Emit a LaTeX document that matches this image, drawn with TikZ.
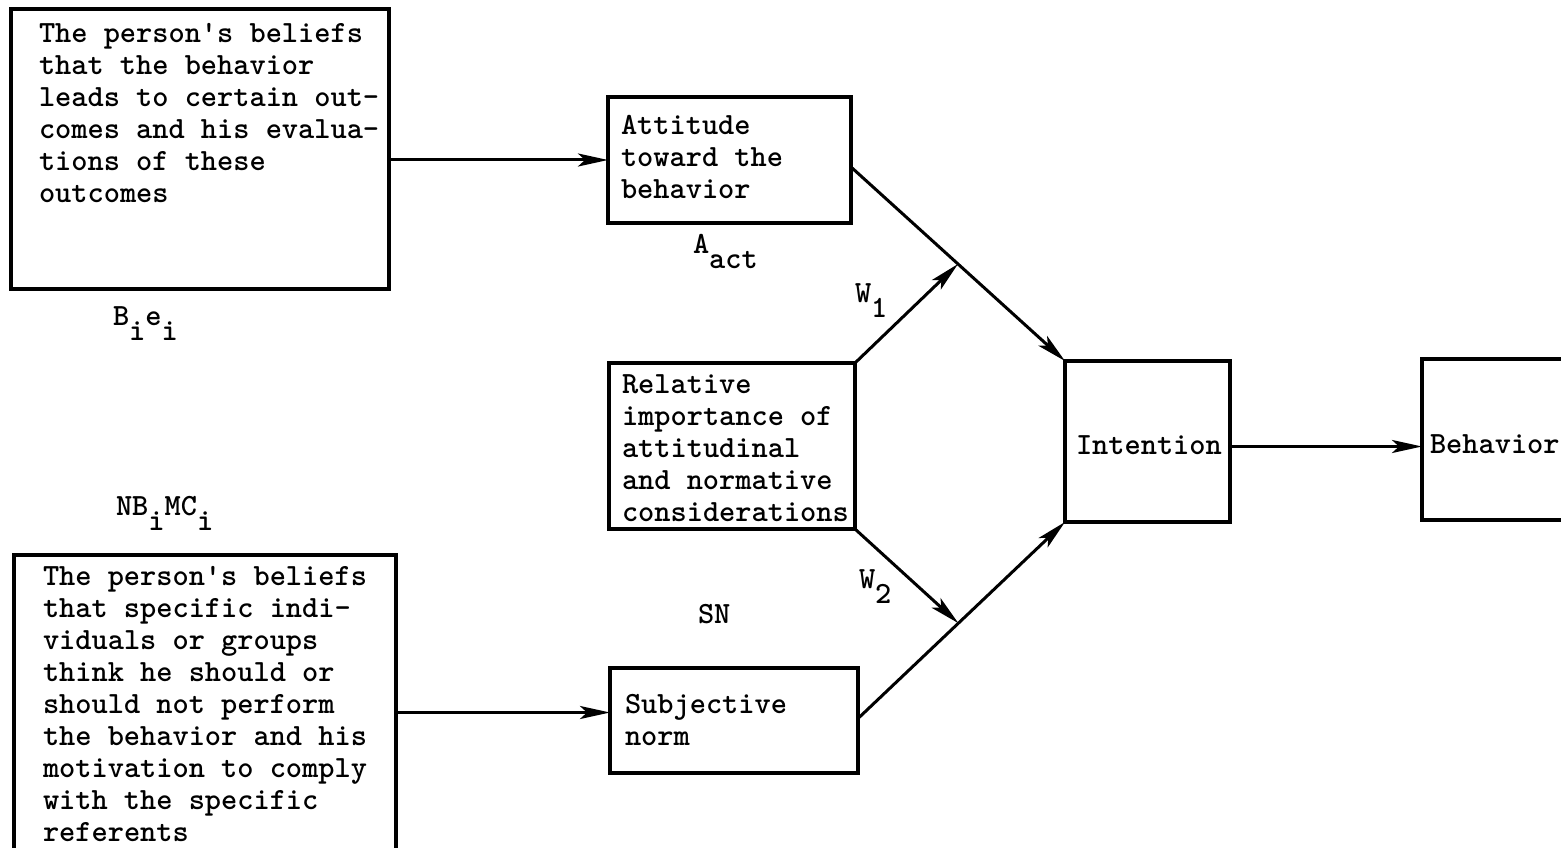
\documentclass[tikz,border=0pt]{standalone}
\usetikzlibrary{arrows.meta,calc}
\newcommand\sbx[1]{\raisebox{-15pt}{#1}}
\newcommand\qq{\textquotesingle}
\newcommand\twfont{\fontsize{30.86}{32}\selectfont\ttfamily\bfseries\spaceskip=16.2pt\relax\xspaceskip=16.2pt\relax}
\begin{document}
\begin{tikzpicture}[x=1pt,y=-1pt,
  bx/.style={draw, rectangle, line width=3.5pt, inner sep=0pt, outer sep=0pt, anchor=north west},
  tx/.style={anchor=base west, inner sep=0pt, outer sep=0pt, text width=430pt, align=left,
             font=\twfont, execute at begin node={\spaceskip=16.2pt\relax\xspaceskip=16.2pt\relax}},
  lb/.style={anchor=base west, inner sep=0pt, outer sep=0pt, font=\twfont},
  arr/.style={line width=3pt, -{Stealth[length=30pt,width=13pt,inset=7pt]}}]
\useasboundingbox (0,0) rectangle (1561,848);

% boxes
\node[bx, minimum width=378pt, minimum height=280pt] (b1) at (11,9) {};
\node[bx, minimum width=243pt, minimum height=126pt] (att) at (608,97) {};
\node[bx, minimum width=246pt, minimum height=166pt] (rel) at (609,363) {};
\node[bx, minimum width=165pt, minimum height=161pt] (int) at (1065,361) {};
\node[bx, minimum width=218pt, minimum height=161pt] (beh) at (1422,359) {};
\node[bx, minimum width=382pt, minimum height=345pt] (b2) at (14,555) {};
\node[bx, minimum width=248pt, minimum height=105pt] (sn) at (610,668) {};

% texts
\node[tx] (t1) at (39,43) {The person\qq s beliefs\\that the behavior\\leads to certain out-\\comes and his evalua-\\tions of these\\outcomes};
\node[tx] (tatt) at (621,135) {Attitude\\toward the\\behavior};
\node[tx] (trel) at (622,393) {Relative\\importance of\\attitudinal\\and normative\\considerations};
\node[lb] (tint) at (1076,454) {Intention};
\node[lb] (tbeh) at (1430,453) {Behavior};
\node[tx] (t2) at (43,585) {The person\qq s beliefs\\that specific indi-\\viduals or groups\\think he should or\\should not perform\\the behavior and his\\motivation to comply\\with the specific\\referents};
\node[tx] (tsn) at (625,713) {Subjective\\norm};

% labels
\node[lb] (lbe) at (113,325) {B\sbx{i}e\sbx{i}};
\node[lb] (lact) at (693,253) {A\sbx{act}};
\node[lb] (lw1) at (855,302) {W\sbx{1}};
\node[lb] (lnb) at (116,515) {NB\sbx{i}MC\sbx{i}};
\node[lb] (lw2) at (859,588) {W\sbx{2}};
\node[lb] (lsn) at (698,623) {SN};

% connectors
\coordinate (A1) at ([yshift=-7pt]att.east);
\coordinate (S1) at ([yshift=2pt]sn.east);
\coordinate (J1) at ($(A1)!0.5!(int.north west)$);
\coordinate (J2) at ($(S1)!0.485!(int.south west)$);
\coordinate (P2) at ([yshift=8pt]sn.west);
\coordinate (I1) at ([yshift=-5pt]int.east);

\draw[arr] (b1.east |- att.west) -- (att.west);
\draw[arr] (b2.east |- P2) -- (P2);
\draw[arr] (A1) -- (int.north west);
\draw[arr] (S1) -- (int.south west);
\draw[arr] (rel.north east) -- (J1);
\draw[arr] (rel.south east) -- (J2);
\draw[arr] (I1) -- (I1 -| beh.west);
\end{tikzpicture}
\end{document}
